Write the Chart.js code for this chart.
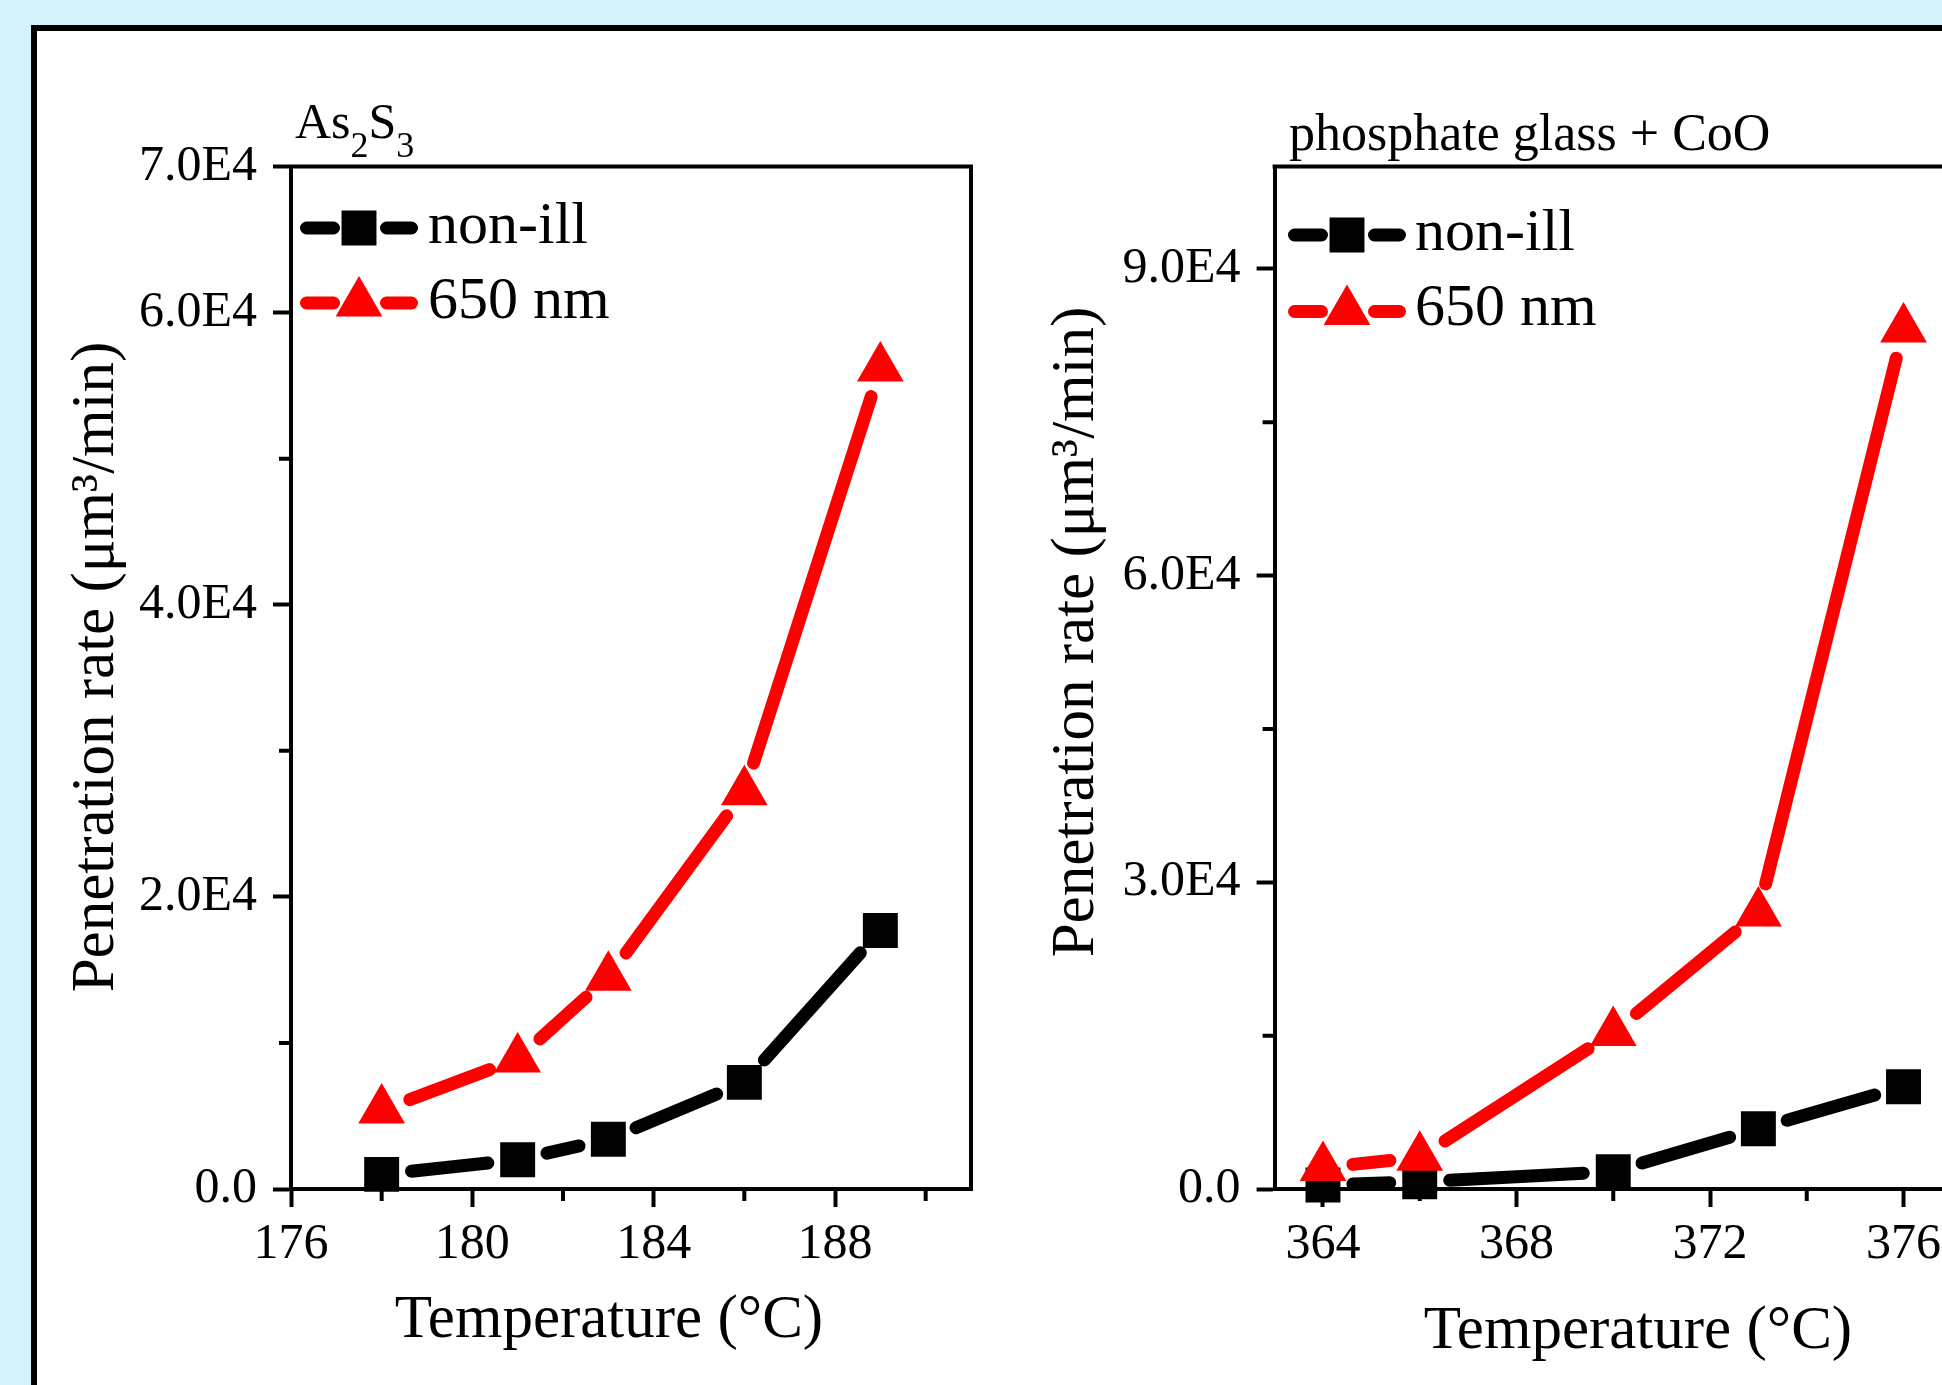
<!DOCTYPE html>
<html>
<head>
<meta charset="utf-8">
<title>Penetration rate vs temperature</title>
<script src="https://cdn.jsdelivr.net/npm/chart.js@4.4.0/dist/chart.umd.min.js"></script>
<style>
  html, body { margin: 0; padding: 0; width: 1942px; height: 1385px; overflow: hidden; background: #d5f2fc; }
  .frame { position: absolute; left: 31px; top: 25px; width: 2100px; height: 1500px; border: 6px solid #000; background: #fff; }
  canvas { position: absolute; }
  #chartLeft { left: 37px; top: 31px; }
  #chartRight { left: 1000px; top: 31px; }
</style>
</head>
<body>
<div class="frame"></div>
<canvas id="chartLeft" width="963" height="1354"></canvas>
<canvas id="chartRight" width="1000" height="1354"></canvas>
<script>
(function () {
    'use strict';

    // Left panel: As2S3
    const as2s3Temp = [178, 181, 183, 186, 189];
    const as2s3NonIll = [1000, 2000, 3400, 7300, 17700];
    const as2s3Ill650 = [5400, 8900, 14500, 27200, 56200];
    const as2s3XTicks = [176, 180, 184, 188];
    const as2s3XLabels = ['176', '180', '184', '188'];
    const as2s3XMinor = [178, 182, 186, 190];
    const as2s3YTicks = [0, 20000, 40000, 60000, 70000];
    const as2s3YLabels = ['0.0', '2.0E4', '4.0E4', '6.0E4', '7.0E4'];
    const as2s3YMinor = [10000, 30000, 50000];

    // Right panel: phosphate glass + CoO
    const phosTemp = [364, 366, 370, 373, 376];
    const phosNonIll = [400, 700, 1700, 5900, 10000];
    const phosIll650 = [2100, 3100, 15300, 27000, 84100];
    const phosXTicks = [364, 368, 372, 376];
    const phosXLabels = ['364', '368', '372', '376'];
    const phosXMinor = [366, 370, 374];
    const phosYTicks = [0, 30000, 60000, 90000];
    const phosYLabels = ['0.0', '3.0E4', '6.0E4', '9.0E4'];
    const phosYMinor = [15000, 45000, 75000];

    const seriesNames = ['non-ill', '650 nm'];
    const xTitle = 'Temperature (°C)';
    const yTitle = 'Penetration rate (μm³/min)';

    const FONT = "'Liberation Serif', 'Times New Roman', serif";
    const LINE_W = 13;      // connecting line width
    const GAP = 30;         // line gap around each symbol (path end, caps are round)
    const SQUARE_R = 24.7;  // chart.js rect radius -> ~35px square
    const TRI_R = 27;       // triangle circumradius
    const Y_AXIS_W = 200;
    const X_AXIS_H = 120;

    function font(px) {
        return px + 'px ' + FONT;
    }

    function drawMarker(ctx, style, cx, cy, color) {
        ctx.fillStyle = color;
        ctx.beginPath();
        if (style === 'triangle') {
            for (let k = 0; k < 3; k++) {
                const ang = k * 2 * Math.PI / 3;
                const px = cx + Math.sin(ang) * TRI_R;
                const py = cy - Math.cos(ang) * TRI_R;
                if (k === 0) ctx.moveTo(px, py); else ctx.lineTo(px, py);
            }
            ctx.closePath();
        } else {
            const h = SQUARE_R * Math.SQRT1_2;
            ctx.rect(cx - h, cy - h, 2 * h, 2 * h);
        }
        ctx.fill();
    }

    /**
     * Origin-like look: gapped lines, top/right frame, minor ticks,
     * panel title, inset legend and axis titles.
     */
    function originLook(decor) {
        return {
            id: 'originLook',
            beforeDatasetDraw(chart, args) {
                const ds = chart.data.datasets[args.index];
                const pts = args.meta.data;
                const ctx = chart.ctx;
                ctx.save();
                ctx.strokeStyle = ds.borderColor;
                ctx.lineWidth = LINE_W;
                ctx.lineCap = 'round';
                for (let i = 0; i < pts.length - 1; i++) {
                    const a = pts[i], b = pts[i + 1];
                    const dx = b.x - a.x, dy = b.y - a.y;
                    const len = Math.hypot(dx, dy);
                    if (len <= 2 * GAP) continue;
                    const ux = dx / len, uy = dy / len;
                    ctx.beginPath();
                    ctx.moveTo(a.x + ux * GAP, a.y + uy * GAP);
                    ctx.lineTo(b.x - ux * GAP, b.y - uy * GAP);
                    ctx.stroke();
                }
                ctx.restore();
            },
            afterDraw(chart) {
                const ctx = chart.ctx;
                const area = chart.chartArea;
                const xs = chart.scales.x, ys = chart.scales.y;
                ctx.save();

                // top and right frame lines
                ctx.strokeStyle = '#000';
                ctx.lineWidth = 4;
                ctx.beginPath();
                ctx.moveTo(area.left - 2, area.top);
                ctx.lineTo(area.right, area.top);
                ctx.lineTo(area.right, area.bottom + 2);
                ctx.stroke();

                // minor ticks
                ctx.beginPath();
                decor.xMinor.forEach(function (v) {
                    const px = xs.getPixelForValue(v);
                    ctx.moveTo(px, area.bottom);
                    ctx.lineTo(px, area.bottom + 12);
                });
                decor.yMinor.forEach(function (v) {
                    const py = ys.getPixelForValue(v);
                    ctx.moveTo(area.left, py);
                    ctx.lineTo(area.left - 12, py);
                });
                ctx.stroke();

                ctx.fillStyle = '#000';
                ctx.textBaseline = 'alphabetic';

                // panel title (with subscripts)
                const t = decor.title;
                let tx = area.left + t.dx;
                const ty = area.top + t.dy;
                ctx.textAlign = 'left';
                t.parts.forEach(function (p) {
                    const sub = p[1] === 1;
                    ctx.font = font(sub ? t.subSize : t.size);
                    ctx.fillText(p[0], tx, ty + (sub ? t.subDrop : 0));
                    tx += ctx.measureText(p[0]).width;
                });

                // inset legend
                const lg = decor.legend;
                const cx = area.left + lg.dx;
                chart.data.datasets.forEach(function (ds, i) {
                    const cy = area.top + lg.rows[i];
                    ctx.strokeStyle = ds.borderColor;
                    ctx.lineWidth = LINE_W;
                    ctx.lineCap = 'round';
                    ctx.beginPath();
                    ctx.moveTo(cx - 52.5, cy);
                    ctx.lineTo(cx - 25.5, cy);
                    ctx.moveTo(cx + 27.5, cy);
                    ctx.lineTo(cx + 52.5, cy);
                    ctx.stroke();
                    drawMarker(ctx, ds.pointStyle, cx, cy, ds.borderColor);
                    ctx.fillStyle = '#000';
                    ctx.font = font(60);
                    ctx.textAlign = 'left';
                    ctx.fillText(ds.label, cx + lg.textDx, cy + lg.textDy[i]);
                });

                // axis titles
                ctx.fillStyle = '#000';
                ctx.font = font(61);
                ctx.textAlign = 'center';
                ctx.fillText(xTitle, (area.left + area.right) / 2 + decor.xTitle.dx, area.bottom + decor.xTitle.dy);

                ctx.translate(area.left + decor.yTitle.dx, (area.top + area.bottom) / 2 + decor.yTitle.dy);
                ctx.rotate(-Math.PI / 2);
                ctx.fillText(yTitle, 0, 0);

                ctx.restore();
            }
        };
    }

    function axisStyle(ticks, labels, padding) {
        return {
            afterBuildTicks: function (s) {
                s.ticks = ticks.map(function (v) { return { value: v }; });
            },
            ticks: {
                callback: function (v, i) { return labels[i]; },
                autoSkip: false,
                maxRotation: 0,
                minRotation: 0,
                padding: padding,
                color: '#000',
                font: { family: FONT, size: 50 }
            },
            grid: {
                drawOnChartArea: false,
                drawTicks: true,
                tickLength: 18,
                tickWidth: 4,
                tickColor: '#000'
            },
            border: { display: true, width: 4, color: '#000' }
        };
    }

    function buildChart(canvasId, cfg) {
        const canvas = document.getElementById(canvasId);
        const xAxis = Object.assign({
            type: 'linear',
            min: cfg.xMin,
            max: cfg.xMax,
            afterFit: function (s) { s.height = X_AXIS_H; }
        }, axisStyle(cfg.xTicks, cfg.xLabels, 8));
        const yAxis = Object.assign({
            type: 'linear',
            min: cfg.yMin,
            max: cfg.yMax,
            afterFit: function (s) { s.width = Y_AXIS_W; }
        }, axisStyle(cfg.yTicks, cfg.yLabels, 16));

        return new Chart(canvas, {
            type: 'line',
            data: {
                datasets: [{
                    label: seriesNames[0],
                    data: cfg.temps.map(function (t, i) { return { x: t, y: cfg.nonIll[i] }; }),
                    borderColor: '#000000',
                    backgroundColor: '#000000',
                    pointBackgroundColor: '#000000',
                    pointStyle: 'rect',
                    pointRadius: SQUARE_R,
                    pointHoverRadius: SQUARE_R,
                    pointBorderWidth: 0,
                    showLine: false,
                    clip: false,
                    order: 1
                }, {
                    label: seriesNames[1],
                    data: cfg.temps.map(function (t, i) { return { x: t, y: cfg.ill650[i] }; }),
                    borderColor: '#ff0000',
                    backgroundColor: '#ff0000',
                    pointBackgroundColor: '#ff0000',
                    pointStyle: 'triangle',
                    pointRadius: TRI_R,
                    pointHoverRadius: TRI_R,
                    pointBorderWidth: 0,
                    showLine: false,
                    clip: false,
                    order: 0
                }]
            },
            options: {
                responsive: false,
                animation: false,
                devicePixelRatio: 1,
                events: [],
                layout: { padding: cfg.padding },
                plugins: {
                    legend: { display: false },
                    tooltip: { enabled: false },
                    title: { display: false }
                },
                scales: { x: xAxis, y: yAxis }
            },
            plugins: [originLook(cfg.decor)]
        });
    }

    // Left: canvas at page (37,31); plot box 291..971 x 166.5..1189
    buildChart('chartLeft', {
        temps: as2s3Temp, nonIll: as2s3NonIll, ill650: as2s3Ill650,
        xMin: 176, xMax: 191, yMin: 0, yMax: 70000,
        xTicks: as2s3XTicks, xLabels: as2s3XLabels,
        yTicks: as2s3YTicks, yLabels: as2s3YLabels,
        padding: { left: 54, top: 135.5, right: 29, bottom: 76 },
        decor: {
            xMinor: as2s3XMinor, yMinor: as2s3YMinor,
            title: { dx: 4, dy: -28.5, size: 50, subSize: 36, subDrop: 18.5,
                     parts: [['As', 0], ['2', 1], ['S', 0], ['3', 1]] },
            legend: { dx: 68, rows: [61.5, 136.5], textDx: 69, textDy: [15, 15] },
            xTitle: { dx: -22, dy: 148 },
            yTitle: { dx: -178, dy: -10.75 }
        }
    });

    // Right: canvas at page (1000,31); plot box 1274.6..1951.9 x 166.5..1189
    buildChart('chartRight', {
        temps: phosTemp, nonIll: phosNonIll, ill650: phosIll650,
        xMin: 363, xMax: 377, yMin: 0, yMax: 100000,
        xTicks: phosXTicks, xLabels: phosXLabels,
        yTicks: phosYTicks, yLabels: phosYLabels,
        padding: { left: 74.6, top: 135.5, right: 48.1, bottom: 76 },
        decor: {
            xMinor: phosXMinor, yMinor: phosYMinor,
            title: { dx: 14.4, dy: -16.5, size: 52, subSize: 36, subDrop: 18.5,
                     parts: [['phosphate glass + CoO', 0]] },
            legend: { dx: 72.4, rows: [68.5, 145], textDx: 68, textDy: [15, 13] },
            xTitle: { dx: 24.75, dy: 159 },
            yTitle: { dx: -181.6, dy: -45.75 }
        }
    });
})();
</script>
</body>
</html>
